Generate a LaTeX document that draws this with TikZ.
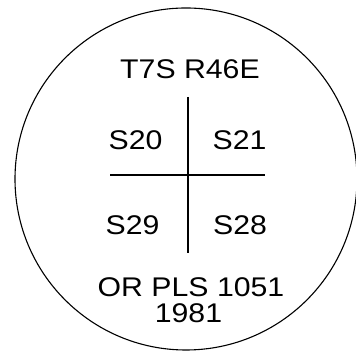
\documentclass[tikz,border=0pt]{standalone}
\usepackage{fontspec}
\setmainfont{Liberation Sans}[FakeStretch=1.12]
\begin{document}
\begin{tikzpicture}[
    x=1pt, y=1pt,
    lbl/.style={anchor=base, inner sep=0pt, font=\fontsize{27}{27}\selectfont},
    rule/.style={line width=1.4pt}
  ]
  \useasboundingbox (0,0) rectangle (356,352);
  \node[circle, draw, line width=1.1pt, minimum size=342pt, inner sep=0pt] (seal) at (186,173) {};
  \node[lbl] (twp) at (190,273) {T7S R46E};
  \node[lbl] (s20) at (135.5,202) {S20};
  \node[lbl] (s21) at (239.5,202) {S21};
  \node[lbl] (s29) at (132.5,117) {S29};
  \node[lbl] (s28) at (240,117) {S28};
  \node[lbl] (pls) at (191,55) {OR PLS 1051};
  \node[lbl] (yr) at (188.5,29) {1981};
  \coordinate (top) at (188,255);
  \coordinate (bot) at (188,99);
  \coordinate (lft) at (110,177);
  \coordinate (rgt) at (265,177);
  \draw[rule] (top) -- (bot);
  \draw[rule] (lft) -- (rgt);
\end{tikzpicture}
\end{document}
